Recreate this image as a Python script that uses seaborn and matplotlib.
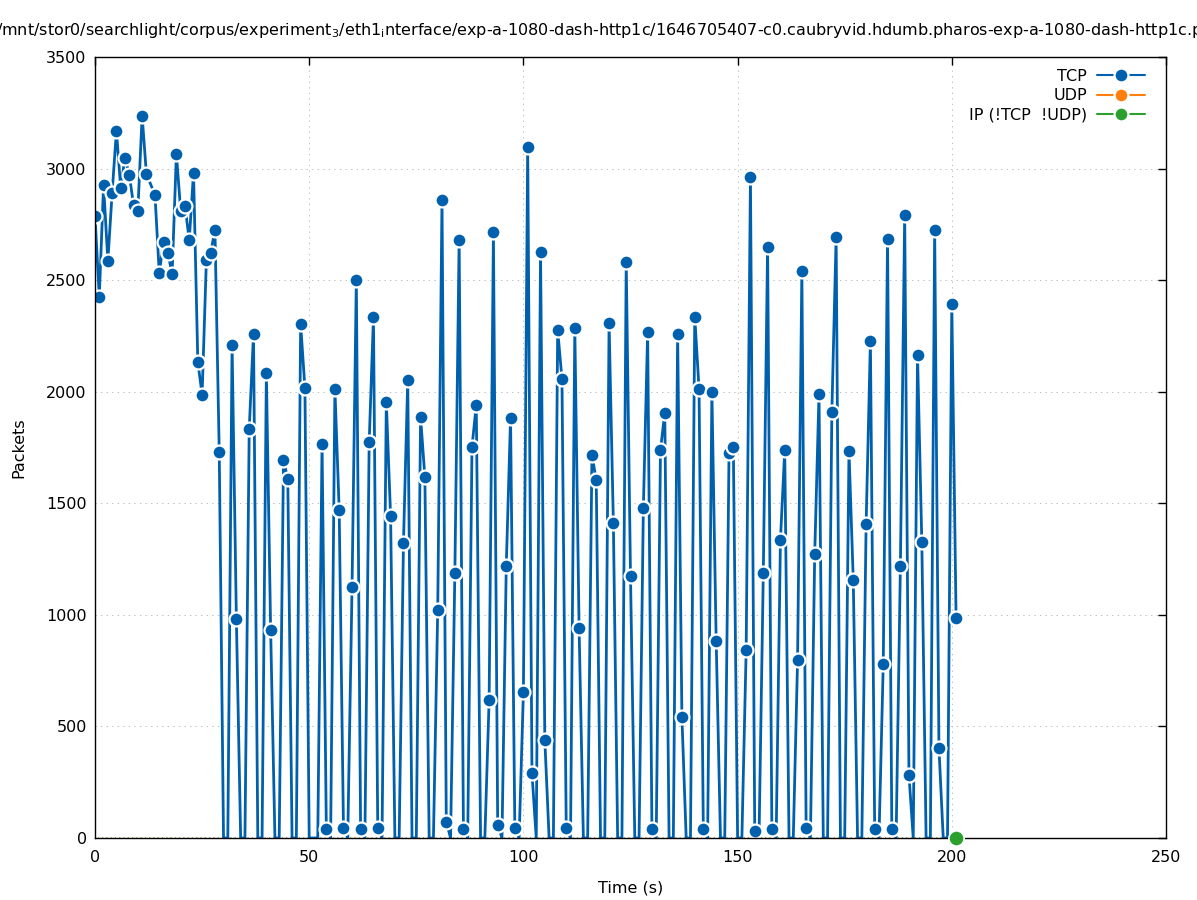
import matplotlib
matplotlib.use('Agg')
import matplotlib.pyplot as plt
from matplotlib.lines import Line2D
import seaborn as sns
import pandas as pd

# Serie TCP (paquetes por segundo); no hay muestra en t=13
tiempos = [t for t in range(202) if t != 13]
tcp = [
    2788, 2425, 2927, 2586, 2891, 3169, 2913, 3048, 2972, 2837,
    2810, 3236, 2976, 2882, 2532, 2671, 2622, 2528, 3066, 2810,
    2833, 2680, 2981, 2134, 1986, 2591, 2622, 2725, 1730, 0,
    0, 2210, 982, 0, 0, 1833, 2259, 0, 0, 2084,
    932, 0, 0, 1694, 1609, 0, 0, 2304, 2017, 0,
    0, 0, 1766, 40, 0, 2012, 1470, 45, 0, 1125,
    2501, 40, 0, 1775, 2335, 45, 0, 1954, 1443, 0,
    0, 1322, 2053, 0, 0, 1887, 1618, 0, 0, 1022,
    2860, 72, 0, 1188, 2680, 40, 0, 1753, 1941, 0,
    0, 619, 2716, 58, 0, 1219, 1883, 45, 0, 654,
    3097, 291, 0, 2627, 439, 0, 0, 2277, 2057, 45,
    0, 2286, 941, 0, 0, 1717, 1605, 0, 0, 2308,
    1412, 0, 0, 2582, 1174, 0, 0, 1479, 2268, 40,
    0, 1739, 1905, 0, 0, 2259, 542, 0, 0, 2335,
    2012, 40, 0, 1999, 883, 0, 0, 1726, 1753, 0,
    0, 843, 2963, 31, 0, 1188, 2649, 40, 0, 1336,
    1739, 0, 0, 798, 2541, 45, 0, 1273, 1990, 0,
    0, 1909, 2694, 0, 0, 1735, 1156, 0, 0, 1407,
    2228, 40, 0, 780, 2685, 40, 0, 1219, 2792, 282,
    0, 2165, 1327, 0, 0, 2725, 403, 0, 0, 2394,
    986,
]
udp = [0] * len(tiempos)
ip_otros = [0] * len(tiempos)

# el titulo original se sale del lienzo por ambos lados
titulo = ('/mnt/stor0/searchlight/corpus/experiment$_3$/eth1$_\\mathrm{i}$nterface/'
          'exp-a-1080-dash-http1c/1646705407-c0.caubryvid.hdumb.pharos-exp-a-1080-dash-http1c.pcap')

AZUL = '#0060ad'
NARANJA = '#ff7f0e'
VERDE = '#2ca02c'

df = pd.DataFrame({'t': tiempos, 'TCP': tcp, 'UDP': udp, 'IP': ip_otros})

sns.set_style('white')
plt.rcParams['font.family'] = ['DejaVu Sans']
plt.rcParams['font.size'] = 11.5
plt.rcParams['text.color'] = 'black'
plt.rcParams['axes.labelcolor'] = 'black'

fig = plt.figure(figsize=(11.97, 9), dpi=100)
ax = fig.add_axes([95 / 1197, 1 - 838 / 900, 1071 / 1197, 781 / 900])

# TCP: los puntos en cero no se dibujan (como en gnuplot)
marcas = [v > 0 for v in tcp]
sns.lineplot(data=df, x='t', y='TCP', ax=ax, color=AZUL, lw=2, marker='o',
             markersize=10, markeredgecolor='white', markeredgewidth=1.6,
             markevery=marcas, zorder=3)

plt.rcParams['lines.scale_dashes'] = False
sns.lineplot(data=df, x='t', y='UDP', ax=ax, color=NARANJA, lw=1.2,
             linestyle=(1.0, (0.7, 2.38)), clip_on=False, zorder=2, alpha=0.6)
sns.lineplot(data=df, x='t', y='IP', ax=ax, color=VERDE, lw=1.2,
             linestyle=(1.0, (0.7, 2.38)), clip_on=False, zorder=2, alpha=0.6)
ax.plot(df['t'].iloc[-1:], df['IP'].iloc[-1:], 'o', color=VERDE, markersize=11,
        markeredgecolor='white', markeredgewidth=1.2, clip_on=False, zorder=5)

ax.set_xlim(0, 250)
ax.set_ylim(0, 3500)
ax.set_xticks(range(0, 251, 50))
ax.set_yticks(range(0, 3501, 500))
ax.tick_params(direction='in', length=6, width=1, top=True, right=True,
               labelsize=11.5, colors='black')
ax.tick_params(axis='x', pad=9)
ax.tick_params(axis='y', pad=6)
ax.grid(True, linestyle=(0, (1, 3)), color='#c0c0c0', lw=0.7)
for s in ax.spines.values():
    s.set_visible(True)
    s.set_color('black')
    s.set_linewidth(1)
    s.set_zorder(4)

ax.set_xlabel('Time (s)', fontsize=11.5, labelpad=11, color='black')
ax.set_ylabel('Packets', fontsize=11.5, labelpad=14, color='black')

manijas = [
    Line2D([], [], color=c, lw=1.5, marker='o', markersize=10,
           markeredgecolor='white', markeredgewidth=1.6)
    for c in (AZUL, NARANJA, VERDE)
]
leyenda = ax.legend(manijas, ['TCP', 'UDP', 'IP (!TCP  !UDP)'], loc='upper right',
                    bbox_to_anchor=(0.980, 0.985), frameon=False, markerfirst=False,
                    handlelength=3.0, handletextpad=0.6, labelspacing=0.28,
                    borderpad=0, borderaxespad=0, fontsize=11.5)
for txt in leyenda.get_texts():
    txt.set_color('black')

fig.text(-0.003, 1 - 30 / 900, titulo, ha='left', va='center', fontsize=11.5,
         color='black')

fig.savefig('out.png', dpi=100)
